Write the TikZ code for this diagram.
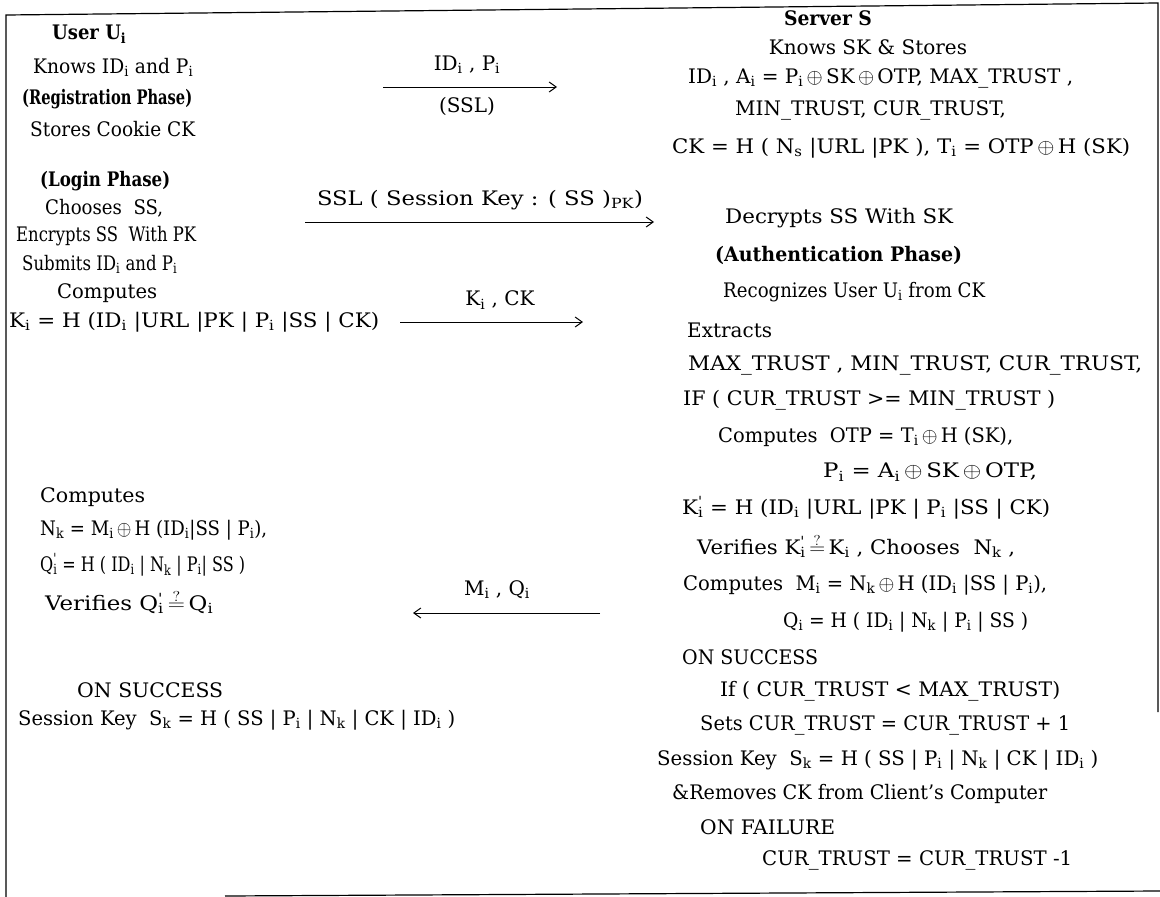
\documentclass[tikz,border=0pt]{standalone}
\usepackage{fontspec}
\setmainfont{DejaVu Serif}
\usetikzlibrary{arrows.meta}
\newcommand\ssb[1]{\textsubscript{#1}}
\newcommand\ssbp[2]{\rlap{\textsuperscript{#2}}\textsubscript{#1}}
\newcommand\xo{\,$\oplus$\,}
\newcommand\qeq{$\stackrel{?}{=}$}
\newcommand\fitw[2]{\resizebox{#1pt}{\height}{#2}}
\begin{document}
\begin{tikzpicture}[x=1pt,y=-1pt,
  every node/.style={inner sep=0pt,font=\fontsize{20}{24}\selectfont},
  ln/.style={anchor=west},
  ct/.style={anchor=center},
  bt/.style={anchor=center,font=\fontsize{20}{24}\selectfont\bfseries},
  btl/.style={anchor=west,font=\fontsize{20}{24}\selectfont\bfseries},
  msg/.style={line width=1pt,-{Straight Barb[length=7pt,width=10pt]}}]
\useasboundingbox (0,0) rectangle (1160,897);
\draw[line width=1.2pt] (6,897) -- (6,15) -- (1158,3) -- (1158,712);
\draw[line width=1.2pt] (225,896) -- (1160,891);
% left column
\node[btl] (u1) at (52,34) {\fitw{74}{User U\ssb{i}}};
\node[ln] (u2) at (33,67) {\fitw{160}{Knows ID\ssb{i} and P\ssb{i}}};
\node[btl] (u3) at (22,99) {\fitw{170}{(Registration Phase)}};
\node[ln] (u4) at (30,129) {\fitw{165}{Stores Cookie CK}};
\node[btl] (u5) at (40,181) {\fitw{130}{(Login Phase)}};
\node[ln] (u6) at (45,208) {\fitw{118}{Chooses~ SS,}};
\node[ln] (u7) at (16,236) {\fitw{180}{Encrypts SS~ With PK}};
\node[ln] (u8) at (22,264) {\fitw{155}{Submits ID\ssb{i} and P\ssb{i}}};
\node[ln] (u9) at (57,293) {\fitw{100}{Computes}};
\node[ln] (u10) at (9,322) {\fitw{370}{K\ssb{i} = H (ID\ssb{i} |URL |PK | P\ssb{i} |SS | CK)}};
\node[ln] (u11) at (40,497) {\fitw{105}{Computes}};
\node[ln] (u12) at (40,530) {\fitw{227}{N\ssb{k} = M\ssb{i}\xo H (ID\ssb{i}|SS | P\ssb{i}),}};
\node[ln] (u13) at (40,565) {\fitw{205}{Q\ssbp{i}{\textquotesingle} = H ( ID\ssb{i} | N\ssb{k} | P\ssb{i}| SS )}};
\node[ln] (u14) at (45,602) {\fitw{168}{Verifies Q\ssbp{i}{\textquotesingle}\,\qeq\,Q\ssb{i}}};
\node[ln] (u15) at (77,690) {\fitw{146}{ON SUCCESS}};
\node[ln] (u16) at (18,720) {\fitw{437}{Session Key~ S\ssb{k} = H ( SS | P\ssb{i} | N\ssb{k} | CK | ID\ssb{i} )}};
% right column
\node[bt] (s1) at (828,18) {\fitw{88}{Server S}};
\node[ct] (s2) at (868,47) {Knows SK \& Stores};
\node[ln] (s3) at (688,78) {\fitw{385}{ID\ssb{i} , A\ssb{i} = P\ssb{i}\xo SK\xo OTP, MAX\_TRUST ,}};
\node[ln] (s4) at (735,110) {MIN\_TRUST, CUR\_TRUST,};
\node[ln] (s5) at (672,148) {\fitw{458}{CK = H ( N\ssb{s} |URL |PK ), T\ssb{i} = OTP\xo H (SK)}};
\node[ln] (s6) at (725,218) {\fitw{228}{Decrypts SS With SK}};
\node[btl] (s7) at (715,255) {\fitw{247}{(Authentication Phase)}};
\node[ln] (s8) at (723,292) {\fitw{262}{Recognizes User U\ssb{i} from CK}};
\node[ln] (s9) at (687,330) {Extracts};
\node[ln] (s10) at (688,365) {\fitw{454}{MAX\_TRUST , MIN\_TRUST, CUR\_TRUST,}};
\node[ln] (s11) at (683,400) {\fitw{372}{IF ( CUR\_TRUST >= MIN\_TRUST )}};
\node[ln] (s12) at (718,437) {\fitw{295}{Computes~ OTP = T\ssb{i}\xo H (SK),}};
\node[ln] (s13) at (823,472) {\fitw{214}{P\ssb{i} = A\ssb{i}\xo SK\xo OTP,}};
\node[ln] (s14) at (682,508) {\fitw{368}{K\ssbp{i}{\textquotesingle} = H (ID\ssb{i} |URL |PK | P\ssb{i} |SS | CK)}};
\node[ln] (s15) at (697,546) {\fitw{318}{Verifies K\ssbp{i}{\textquotesingle}\,\qeq\,K\ssb{i} , Chooses~ N\ssb{k} ,}};
\node[ln] (s16) at (683,585) {\fitw{364}{Computes~ M\ssb{i} = N\ssb{k}\xo H (ID\ssb{i} |SS | P\ssb{i}),}};
\node[ln] (s17) at (783,622) {\fitw{245}{Q\ssb{i} = H ( ID\ssb{i} | N\ssb{k} | P\ssb{i} | SS )}};
\node[ln] (s18) at (682,657) {\fitw{136}{ON SUCCESS}};
\node[ln] (s19) at (720,691) {\fitw{340}{If ( CUR\_TRUST < MAX\_TRUST)}};
\node[ln] (s20) at (700,725) {\fitw{370}{Sets CUR\_TRUST = CUR\_TRUST + 1}};
\node[ln] (s21) at (657,760) {\fitw{441}{Session Key~ S\ssb{k} = H ( SS | P\ssb{i} | N\ssb{k} | CK | ID\ssb{i} )}};
\node[ln] (s22) at (672,794) {\fitw{375}{\&Removes CK from Client's Computer}};
\node[ln] (s23) at (700,827) {\fitw{135}{ON FAILURE}};
\node[ln] (s24) at (762,860) {\fitw{310}{CUR\_TRUST = CUR\_TRUST -1}};
% messages
\coordinate (a1s) at (383,87); \coordinate (a1e) at (557,87);
\draw[msg] (a1s) -- (a1e);
\node[ct] (l1a) at (467,65) {ID\ssb{i} , P\ssb{i}};
\node[ct] (l1b) at (467,106) {(SSL)};
\coordinate (a2s) at (305,222); \coordinate (a2e) at (654,222);
\draw[msg] (a2s) -- (a2e);
\node[ct] (l2) at (480,200) {\fitw{326}{SSL ( Session Key : ( SS )\ssb{PK})}};
\coordinate (a3s) at (400,322); \coordinate (a3e) at (583,322);
\draw[msg] (a3s) -- (a3e);
\node[ct] (l3) at (500,300) {K\ssb{i} , CK};
\coordinate (a4s) at (600,613); \coordinate (a4e) at (413,613);
\draw[msg] (a4s) -- (a4e);
\node[ct] (l4) at (497,590) {M\ssb{i} , Q\ssb{i}};
\end{tikzpicture}
\end{document}
